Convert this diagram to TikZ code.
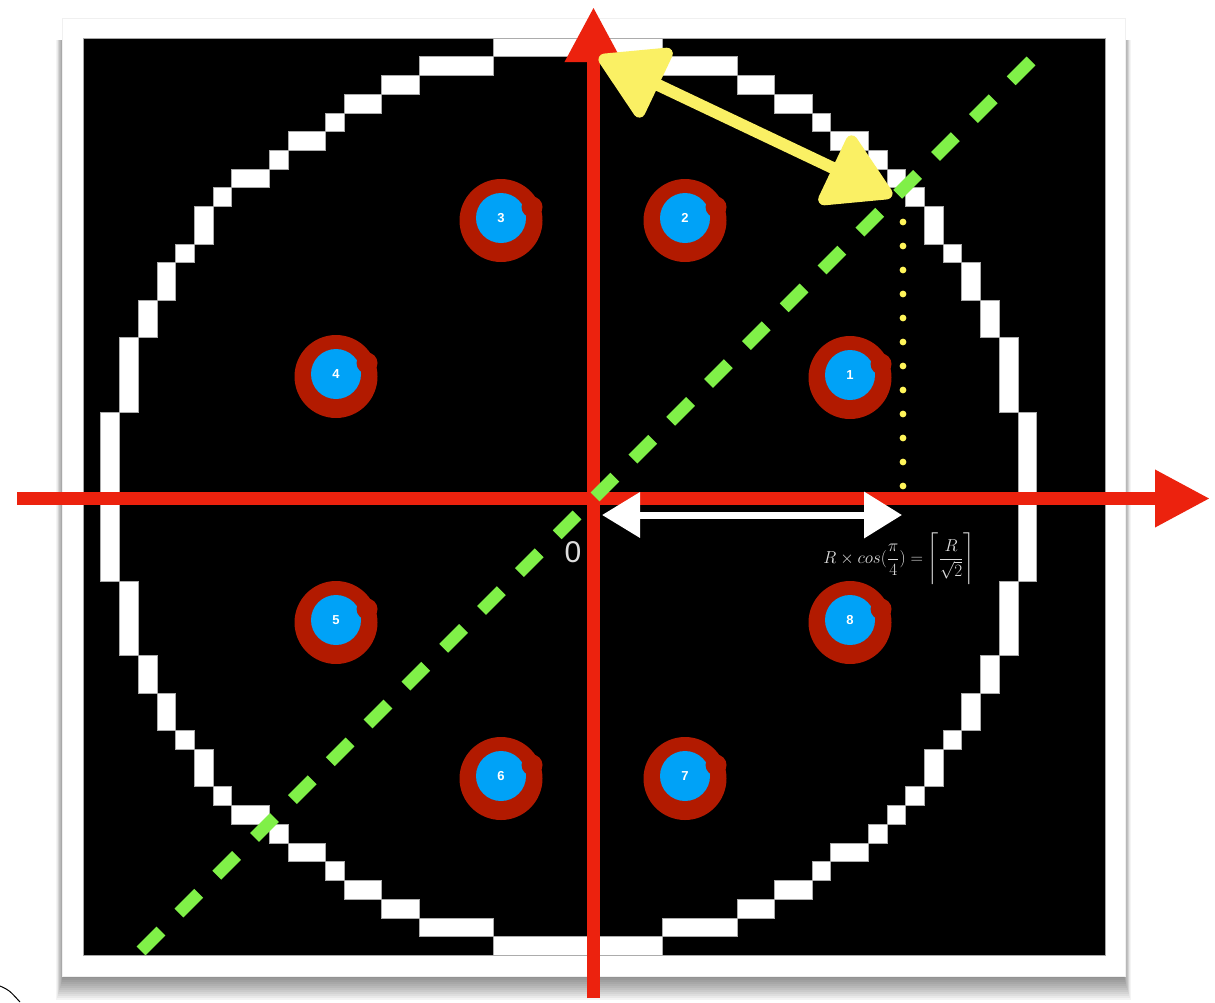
\documentclass[tikz,border=0pt]{standalone}
\usepackage{amsmath}
\usepackage{fontspec}
\newfontfamily\hv{Liberation Sans}
\usetikzlibrary{arrows.meta,calc}
\definecolor{axred}{RGB}{236,34,14}
\definecolor{ringred}{RGB}{178,26,0}
\definecolor{mblue}{RGB}{0,162,247}
\definecolor{dgreen}{RGB}{128,240,72}
\definecolor{syellow}{RGB}{250,240,100}
\definecolor{dotyellow}{RGB}{255,245,90}
\definecolor{formgray}{RGB}{222,222,222}
\tikzset{
  axis/.style={axred,line width=13pt,line cap=butt,-{Triangle[length=55pt,width=54pt]}},
  gdash/.style={dgreen,line width=12.5pt,line cap=butt,dash pattern=on 28pt off 25.5pt},
  pixrun/.style={fill=white,draw=gray!65,line width=0.7pt},
  marklabel/.style={text=white,font=\hv\bfseries\fontsize{13}{13}\selectfont,inner sep=0pt},
  yarrow/.style={syellow,line width=12pt,line cap=round,{Triangle[length=72pt,width=82pt,round]}-{Triangle[length=72pt,width=82pt,round]}},
  warrow/.style={white,line width=7pt,{Triangle[length=38pt,width=44pt]}-{Triangle[length=38pt,width=45pt]}},
}
\begin{document}
\begin{tikzpicture}[x=1pt,y=-1pt]
\useasboundingbox (0,0) rectangle (1215,1002);
\fill[white] (0,0) rectangle (1215,1002);
% drop shadow of the frame
\foreach \i in {0,...,11} {\fill[black,opacity=0.045] (63-0.6*\i,40) rectangle (1124+0.6*\i,978+2*\i);}
% frame
\fill[white] (62,18) rectangle (1125,976);
\draw[gray!12,line width=0.6pt] (62,18) rectangle (1125,976);
% black field
\fill[black] (83,38) rectangle (1105,955);
\draw[gray!70,line width=0.8pt] (83,38) rectangle (1105,955);
% pixel circle
\begin{scope}[xshift=100.7pt,yshift=-38pt,x=18.72pt,y=-18.72pt]
\foreach \a/\b/\r/\s in {21/29/0/0, 21/29/48/48,
17/20/1/1, 30/33/1/1, 17/20/47/47, 30/33/47/47,
15/16/2/2, 34/35/2/2, 15/16/46/46, 34/35/46/46,
13/14/3/3, 36/37/3/3, 13/14/45/45, 36/37/45/45,
12/12/4/4, 38/38/4/4, 12/12/44/44, 38/38/44/44,
10/11/5/5, 39/40/5/5, 10/11/43/43, 39/40/43/43,
9/9/6/6, 41/41/6/6, 9/9/42/42, 41/41/42/42,
7/8/7/7, 42/42/7/7, 7/8/41/41, 42/42/41/41,
6/6/8/8, 43/43/8/8, 6/6/40/40, 43/43/40/40,
5/5/9/10, 44/44/9/10, 5/5/38/39, 44/44/38/39,
4/4/11/11, 45/45/11/11, 4/4/37/37, 45/45/37/37,
3/3/12/13, 46/46/12/13, 3/3/35/36, 46/46/35/36,
2/2/14/15, 47/47/14/15, 2/2/33/34, 47/47/33/34,
1/1/16/19, 48/48/16/19, 1/1/29/32, 48/48/29/32,
0/0/20/28, 49/49/20/28}
  {\draw[pixrun] (\a,\r) rectangle (\b+1,\s+1);}
\end{scope}
% markers
\foreach \n/\x/\y in {1/850/375, 2/685/218, 3/501/218, 4/336/374, 5/336/620, 6/501/776, 7/685/776, 8/850/620}{
  \fill[ringred] (\x,\y+2.5) circle (41.5);
  \fill[mblue] (\x,\y) circle (25);
  \fill[ringred] (\x+31,\y-11) circle (10.5);
  \node[marklabel] (m\n) at (\x,\y) {\n};
}
% axes
\coordinate (hstart) at (17,498.5);
\coordinate (htip) at (1210,498.5);
\coordinate (vend) at (593.5,998);
\coordinate (vtip) at (593.5,7);
\draw[axis] (hstart) -- (htip);
\draw[axis] (vend) -- (vtip);
% green diagonal
\coordinate (g1) at (1031,61);
\coordinate (g2) at (140,952);
\draw[gdash] (g1) -- (g2);
% yellow dotted vertical
\foreach \k in {0,...,11} {\fill[dotyellow] (903,222+24*\k) circle (3.4);}
% yellow double arrow
\coordinate (ya) at (599,57);
\coordinate (yb) at (892,196);
\draw[yarrow] (ya) -- (yb);
% white double arrow
\coordinate (wa) at (602,515);
\coordinate (wb) at (902,515);
\draw[warrow] (wa) -- (wb);
% labels
\node[text=formgray,font=\hv\fontsize{30}{30}\selectfont,inner sep=0pt] (zero) at (573,552) {0};
\node[text=formgray,font=\fontsize{19}{22}\selectfont,inner sep=0pt] (formula) at (899,558)
  {$\displaystyle R\times cos(\frac{\pi}{4}) = \left\lceil\rule[-20pt]{0pt}{52pt}\frac{R}{\sqrt{2}}\right\rceil$};
% corner stroke
\coordinate (c1) at (0,986);
\coordinate (c2) at (20,1002);
\draw[black,line width=1pt] (c1) .. controls (9,990) .. (c2);
\end{tikzpicture}
\end{document}
